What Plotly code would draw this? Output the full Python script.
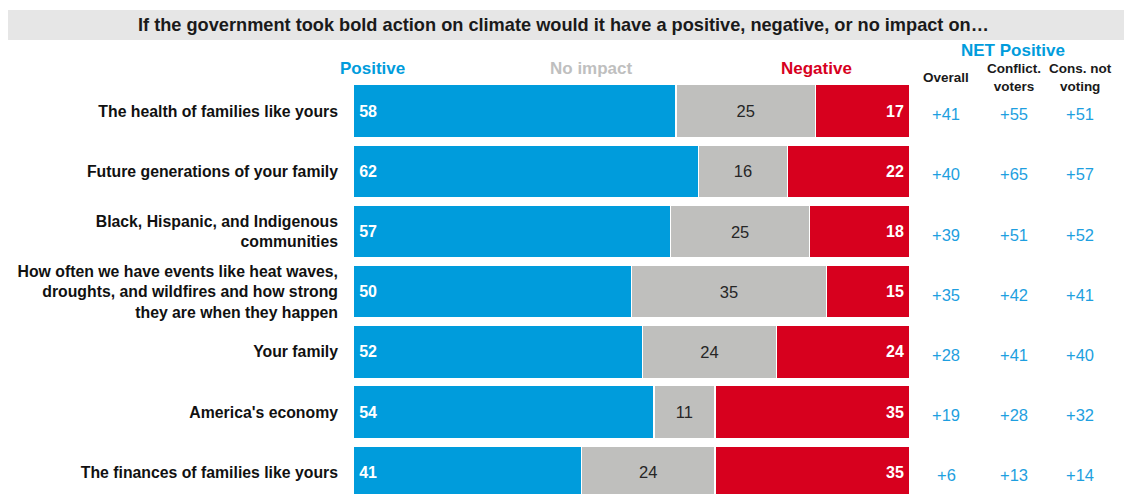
import plotly.graph_objects as go

categories = [
    "The health of families like yours",
    "Future generations of your family",
    "Black, Hispanic, and Indigenous<br>communities",
    "How often we have events like heat waves,<br>droughts, and wildfires and how strong<br>they are when they happen",
    "Your family",
    "America's economy",
    "The finances of families like yours",
]
positive = [58, 62, 57, 50, 52, 54, 41]
no_impact = [25, 16, 25, 35, 24, 11, 24]
negative = [17, 22, 18, 15, 24, 35, 35]
net_overall = ["+41", "+40", "+39", "+35", "+28", "+19", "+6"]
net_conflict = ["+55", "+65", "+51", "+42", "+41", "+28", "+13"]
net_cons = ["+51", "+57", "+52", "+41", "+40", "+32", "+14"]

BLUE = "#009CDC"
GRAY = "#BFBFBD"
RED = "#D7001E"
FONT = "Liberation Sans, Arial, sans-serif"

W, H = 1124, 494
L, R = 353, 910
T, B = 81, 494


def px_x(p):
    return (p - L) / (R - L)


def px_y(p):
    return (B - p) / (B - T)


fig = go.Figure()
common = dict(orientation="h", y=categories, textposition="inside", textangle=0,
              marker_line=dict(color="white", width=1.5), hoverinfo="skip",
              constraintext="none")
fig.add_trace(go.Bar(x=positive, name="Positive", marker_color=BLUE,
                     texttemplate="\u2009%{x}", insidetextanchor="start",
                     textfont=dict(family=FONT, size=16, color="white", weight="bold"), **common))
fig.add_trace(go.Bar(x=no_impact, name="No impact", marker_color=GRAY,
                     texttemplate="%{x}", insidetextanchor="middle",
                     textfont=dict(family=FONT, size=16.5, color="#262626"), **common))
fig.add_trace(go.Bar(x=negative, name="Negative", marker_color=RED,
                     texttemplate="%{x}\u2009", insidetextanchor="end",
                     textfont=dict(family=FONT, size=16, color="white", weight="bold"), **common))

ann = []
# title
ann.append(dict(text="<b>If the government took bold action on climate would it have a positive, negative, or no impact on…</b>",
                xref="paper", yref="paper", x=px_x(563), y=px_y(25), showarrow=False,
                font=dict(family=FONT, size=18.2, color="#1a1a1a"), xanchor="center", yanchor="middle"))
# column headers
for txt, cx, col in [("Positive", 372, BLUE), ("No impact", 591, "#BFBFBF"), ("Negative", 816, RED)]:
    ann.append(dict(text=f"<b>{txt}</b>", xref="paper", yref="paper", x=px_x(cx), y=px_y(69),
                    showarrow=False, font=dict(family=FONT, size=17, color=col),
                    xanchor="center", yanchor="middle"))
ann.append(dict(text="<b>NET Positive</b>", xref="paper", yref="paper", x=px_x(1013), y=px_y(50),
                showarrow=False, font=dict(family=FONT, size=17, color=BLUE),
                xanchor="center", yanchor="middle"))
for txt, cx, cy in [("Overall", 946, 78), ("Conflict.<br>voters", 1014, 78), ("Cons. not<br>voting", 1080, 78)]:
    ann.append(dict(text=f"<b>{txt}</b>", xref="paper", yref="paper", x=px_x(cx), y=px_y(cy),
                    showarrow=False, font=dict(family=FONT, size=13.5, color="#1a1a1a"),
                    xanchor="center", yanchor="middle"))
# net values
for vals, cx in [(net_overall, 946), (net_conflict, 1014), (net_cons, 1080)]:
    for cat, v in zip(categories, vals):
        ann.append(dict(text=v, xref="paper", yref="y", x=px_x(cx), y=cat, showarrow=False,
                        font=dict(family=FONT, size=16.5, color="#1E9FE0"),
                        xanchor="center", yanchor="middle", yshift=-3))

fig.update_layout(
    width=W, height=H, barmode="stack", bargap=0.12, showlegend=False,
    plot_bgcolor="white", paper_bgcolor="white",
    margin=dict(l=L, r=W - R, t=T, b=H - B, autoexpand=False),
    xaxis=dict(range=[0, 100], visible=False, fixedrange=True),
    yaxis=dict(type="category", range=[6.36, -0.5], showgrid=False, zeroline=False,
               showline=False, ticks="", ticklabelstandoff=14, fixedrange=True,
               tickfont=dict(family=FONT, size=15.8, color="#111111", weight="bold")),
    annotations=ann,
    shapes=[dict(type="rect", xref="paper", yref="paper", x0=px_x(8), x1=px_x(1124),
                 y0=px_y(40), y1=px_y(10), fillcolor="#E6E6E6", line_width=0, layer="below")],
    font=dict(family=FONT),
)

fig.write_html("out.html", config={"displayModeBar": False},
               post_script="document.body.style.margin='0px';")
